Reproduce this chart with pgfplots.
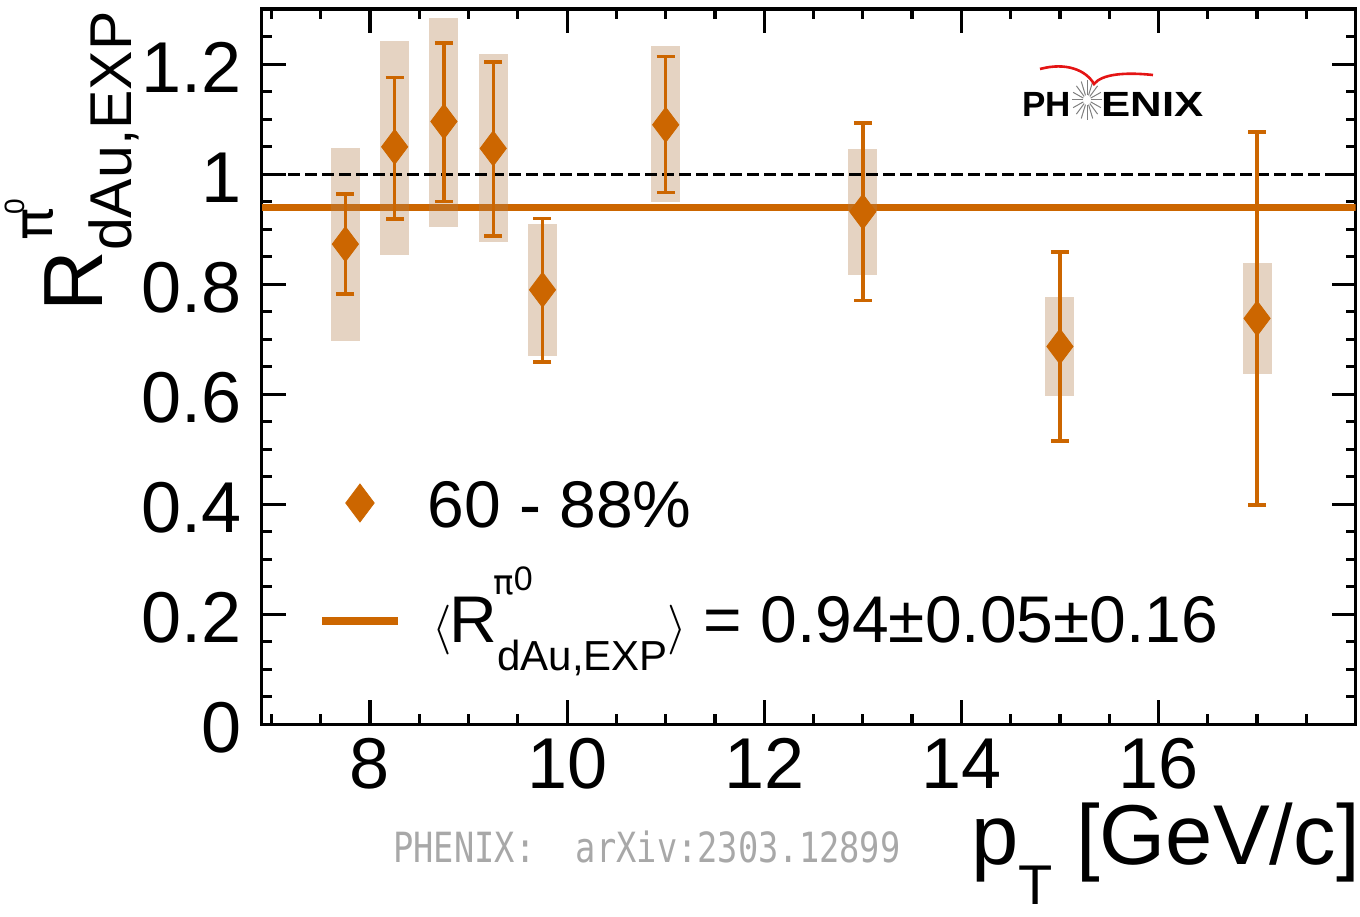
\documentclass[border=0pt]{standalone}
\usepackage{fontspec}
\setmainfont{Liberation Sans}
\newfontfamily\arxivfont{DejaVu Sans Mono}
\newfontfamily\pifont{DejaVu Sans}
\usepackage{graphicx}
\usepackage{pgfplots}
\pgfplotsset{compat=1.18}
\usepackage{pgfplotstable}

\definecolor{orng}{RGB}{204,102,0}
\definecolor{sysc}{RGB}{180,130,80}
\definecolor{arxivgray}{RGB}{168,168,168}
\definecolor{logored}{RGB}{228,20,20}

\pgfplotstableread{
x     y     statlo stathi syslo syshi
7.75  0.873 0.782  0.964  0.697 1.047
8.25  1.050 0.919  1.176  0.853 1.243
8.75  1.096 0.951  1.239  0.905 1.285
9.25  1.047 0.888  1.204  0.876 1.218
9.75  0.790 0.659  0.920  0.670 0.910
11    1.090 0.967  1.214  0.949 1.233
13    0.932 0.770  1.093  0.817 1.046
15    0.687 0.515  0.859  0.597 0.777
17    0.738 0.399  1.077  0.637 0.839
}\datatable

\begin{document}
\begin{tikzpicture}
\begin{axis}[
  scale only axis, width=547pt, height=357.5pt,
  xmin=6.9, xmax=18, ymin=0, ymax=1.3,
  xtick={8,10,12,14,16},
  ytick={0,0.2,0.4,0.6,0.8,1,1.2},
  minor xtick={7,7.5,8.5,9,9.5,10.5,11,11.5,12.5,13,13.5,14.5,15,15.5,16.5,17,17.5},
  minor ytick={0.05,0.1,0.15,0.25,0.3,0.35,0.45,0.5,0.55,0.65,0.7,0.75,0.85,0.9,0.95,1.05,1.1,1.15,1.25},
  tick align=inside,
  major tick length=12pt, minor tick length=5pt,
  axis line style={line width=1.8pt},
  every tick/.style={black, line width=1.6pt},
  /pgf/number format/assume math mode=true,
  tick label style={font=\fontsize{36}{36}\selectfont},
  xticklabel style={inner sep=0pt, yshift=-7pt},
  yticklabel style={inner sep=0pt, xshift=-9.8pt, yshift=-1.5pt},
]
% mean value line
\addplot[orng, line width=3.6pt] coordinates {(6.9,0.94) (18,0.94)};
% systematic boxes
\addplot[draw=none, error bars/.cd, y dir=both, y explicit, error mark=none,
  error bar style={draw=sysc, draw opacity=0.35, line width=14.5pt}]
  table[x=x, y=y, y error plus expr=\thisrow{syshi}-\thisrow{y}, y error minus expr=\thisrow{y}-\thisrow{syslo}] {\datatable};
% unity line
\addplot[black, dash pattern=on 6pt off 2.5pt, line width=1.5pt] coordinates {(7,1) (18,1)};
% data points with statistical errors
\addplot[orng, only marks, mark=diamond*, mark size=8.75pt, mark options={solid, line width=0.4pt, fill=orng},
  error bars/.cd, y dir=both, y explicit, error mark=|,
  error mark options={orng, line width=1.7pt, mark size=4.5pt},
  error bar style={orng, line width=1.7pt}]
  table[x=x, y=y, y error plus expr=\thisrow{stathi}-\thisrow{y}, y error minus expr=\thisrow{y}-\thisrow{statlo}] {\datatable};
% legend images
\addplot[orng, only marks, mark=diamond*, mark size=9.5pt, mark options={line width=0.4pt, fill=orng}] coordinates {(7.898,0.4024)};
\addplot[orng, line width=4pt] coordinates {(7.513,0.1878) (8.284,0.1878)};
\end{axis}

\begin{scope}[shift={(current axis.north west)}, x=0.5pt, y=-0.5pt, shift={(-261.6,-9.3)}]
% y label
\node[rotate=90, anchor=base east, inner sep=0pt] at (103,11)
  {\fontsize{42}{42}\selectfont R\rlap{\kern5pt\raisebox{25pt}{\fontsize{27}{27}\selectfont{\pifont π}\kern-3pt\raisebox{14pt}{\fontsize{14}{14}\selectfont 0}}}\raisebox{-14.5pt}{\fontsize{29.5}{29.5}\selectfont dAu,EXP}};
% x label
\node[anchor=base east, inner sep=0pt] at (1360,864)
  {\fontsize{42.5}{42.5}\selectfont p\raisebox{-20pt}{\fontsize{28}{28}\selectfont T} [GeV/c]};
% arXiv tag
\node[anchor=base west, inner sep=0pt, text=arxivgray] at (393,862)
  {\scalebox{0.81}[1]{\arxivfont\fontsize{20.8}{20.8}\selectfont PHENIX:\ \ arXiv:2303.12899}};
% legend texts
\node[anchor=base west, inner sep=0pt] at (427,528) {\fontsize{33}{33}\selectfont 60 - 88\%};
\node[anchor=base west, inner sep=0pt] at (432,643)
  {\fontsize{33}{33}\selectfont $\langle$\kern-1pt R\rlap{\kern-2pt\raisebox{24.5pt}{\fontsize{17}{17}\selectfont{\pifont π}\raisebox{1.5pt}{0}}}\raisebox{-13.5pt}{\fontsize{21}{21}\selectfont dAu,EXP}$\rangle$\kern-1pt{} = 0.94±0.05±0.16};
% PHENIX logo
\node[anchor=base west, inner sep=0pt] at (1022,117) {\fontsize{17.5}{17.5}\selectfont\bfseries PH};
\node[anchor=base west, inner sep=0pt] at (1101,117) {\scalebox{1.25}[1]{\fontsize{17.5}{17.5}\selectfont\bfseries ENIX}};
\foreach \a in {0,22.5,...,337.5} {
  \draw[gray, line width=0.5pt, shift={(1087,100)}] (\a:4 and 5) -- (\a:15 and 20);
}
\draw[logored, line width=1.3pt] (1040,69) .. controls (1066,62) and (1086,70) .. (1094,84)
   .. controls (1102,74) and (1125,72) .. (1153,75);
% bounding box
\pgfresetboundingbox
\path[use as bounding box] (0,0) rectangle (1360,916);
\end{scope}
\end{tikzpicture}
\end{document}
